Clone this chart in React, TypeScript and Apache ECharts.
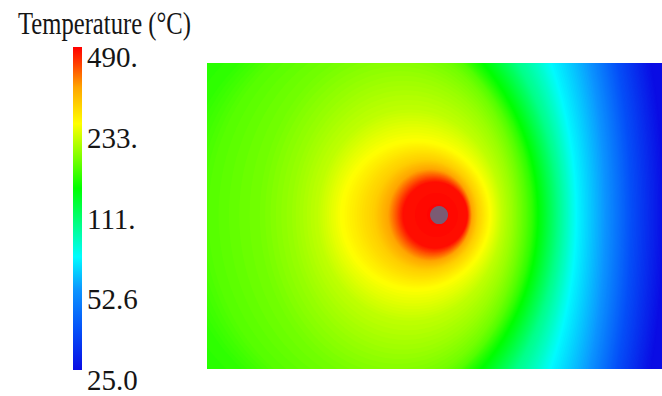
import React, { useEffect, useRef } from "react";
import * as echarts from "echarts";

// ---- data ----
// Isotherms of the temperature field (domain in mm: x 0–150, y 0–100).
// Each isotherm is an ellipse: centre (x, y), half-width, half-height.
const isoTemp = [25, 36, 53, 70, 95, 133, 149, 161, 173, 189, 208, 242, 291, 338, 407, 472];
const isoCenterX = [-154, -134.5, -109.8, -34.3, 16.2, 30.7, 48.8, 52.8, 60.3, 64.3, 66.9, 68.9, 72.2, 73.5, 74.5, 75.2];
const isoCenterY = [50.3, 50.3, 50.3, 50.3, 50.3, 50.3, 50.3, 50.3, 50.3, 50.3, 50.3, 50.3, 50.3, 50.3, 50.3, 50.3];
const isoRadiusX = [304.6, 274.3, 240.7, 156.3, 99.6, 78.5, 58.4, 52.4, 42.9, 36.3, 30.3, 24.4, 17.1, 13.8, 11.9, 10.6];
const isoRadiusY = [302, 271.9, 238.6, 154.9, 98.7, 77.8, 65.4, 62.1, 54.9, 45.5, 34.5, 24.2, 18.0, 15.0, 12.6, 10.8];

// Heat source position (mm)
const sourceX = [76.5];
const sourceY = [50.3];

// Colour bar
const tempMin = 25;
const tempMax = 490;
const tickTemps = [25.0, 52.6, 111, 233, 490];
const tickLabels = ["25.0", "52.6", "111.", "233.", "490."];
const titleText = "Temperature (°C)";

// ---- styles: colour ramp (position along the bar 0..4, rgb) ----
const rampPos = [0, 0.5, 1.0, 1.4, 1.8, 2.25, 2.6, 3.05, 3.5, 3.8, 4.0];
const rampRGB: [number, number, number][] = [
  [10, 12, 228],
  [5, 80, 248],
  [12, 150, 255],
  [0, 252, 255],
  [0, 255, 135],
  [0, 255, 0],
  [115, 255, 0],
  [255, 255, 0],
  [255, 165, 0],
  [255, 60, 0],
  [255, 0, 0],
];

const U_MAX = tickTemps.length - 1;
const uOf = (t: number) => (U_MAX * Math.log(t / tempMin)) / Math.log(tempMax / tempMin);

function colorAt(u: number): string {
  const v = Math.max(0, Math.min(U_MAX, u));
  let i = 0;
  while (i < rampPos.length - 2 && v > rampPos[i + 1]) i++;
  const t = (v - rampPos[i]) / (rampPos[i + 1] - rampPos[i]);
  const a = rampRGB[i];
  const b = rampRGB[i + 1];
  const c = a.map((x, k) => Math.round(x + (b[k] - x) * t));
  return `rgb(${c[0]},${c[1]},${c[2]})`;
}

export default function App() {
  const ref = useRef<HTMLDivElement>(null);

  useEffect(() => {
    if (!ref.current) return;
    const chart = echarts.init(ref.current, undefined, { renderer: "svg" });

    const fieldData = isoTemp.map((t, i) => [isoCenterX[i], isoCenterY[i], isoRadiusX[i], isoRadiusY[i], t]);

    const option: any = {
      animation: false,
      backgroundColor: "#ffffff",
      grid: [
        { left: 207, top: 63, width: 455, height: 306, show: true, backgroundColor: colorAt(0), borderWidth: 0 },
        { left: 73, top: 47, width: 9, height: 323 },
      ],
      xAxis: [
        { gridIndex: 0, type: "value", min: 0, max: 150, show: false },
        { gridIndex: 1, type: "value", min: 0, max: 1, show: false },
      ],
      yAxis: [
        { gridIndex: 0, type: "value", min: 0, max: 100, show: false },
        {
          gridIndex: 1,
          type: "value",
          min: 0,
          max: U_MAX,
          interval: 1,
          position: "right",
          axisLine: { show: false },
          axisTick: { show: false },
          splitLine: { show: false },
          axisLabel: {
            formatter: (v: number) => tickLabels[Math.round(v)],
            fontFamily: "Liberation Serif",
            fontSize: 29,
            color: "#151515",
            margin: 5,
            verticalAlign: "top",
            lineHeight: 20,
          },
        },
      ],
      series: [
        {
          // isotherm bands: each isotherm is filled, shading towards the next (hotter) one
          type: "custom",
          xAxisIndex: 0,
          yAxisIndex: 0,
          clip: true,
          data: fieldData,
          renderItem: (params: any, api: any) => {
            const i = params.dataIndex;
            const c = api.coord([api.value(0), api.value(1)]);
            const s = api.size([api.value(2), api.value(3)]);
            const u = uOf(api.value(4));
            let nc = api.coord([sourceX[0], sourceY[0]]);
            let ns = [0, 0];
            let nu = U_MAX;
            if (i + 1 < isoTemp.length) {
              nc = api.coord([isoCenterX[i + 1], isoCenterY[i + 1]]);
              ns = api.size([isoRadiusX[i + 1], isoRadiusY[i + 1]]);
              nu = uOf(isoTemp[i + 1]);
            }
            const K = Math.max(2, Math.ceil(Math.abs(nu - u) / 0.02));
            const children: any[] = [];
            for (let k = 0; k < K; k++) {
              const t = k / K;
              const tm = (k + 0.5) / K;
              children.push({
                type: "ellipse",
                shape: {
                  cx: c[0] + (nc[0] - c[0]) * t,
                  cy: c[1] + (nc[1] - c[1]) * t,
                  rx: s[0] + (ns[0] - s[0]) * t,
                  ry: s[1] + (ns[1] - s[1]) * t,
                },
                style: { fill: colorAt(u + (nu - u) * tm) },
              });
            }
            return { type: "group", children };
          },
          z: 2,
        },
        {
          type: "scatter",
          xAxisIndex: 0,
          yAxisIndex: 0,
          data: sourceX.map((x, i) => [x, sourceY[i]]),
          symbol: "circle",
          symbolSize: 18,
          itemStyle: { color: "#5a7290" },
          z: 3,
        },
        {
          // colour bar
          type: "custom",
          xAxisIndex: 1,
          yAxisIndex: 1,
          data: [[0, 0, 1, U_MAX]],
          renderItem: (params: any, api: any) => {
            const p0 = api.coord([api.value(0), api.value(3)]);
            const p1 = api.coord([api.value(2), api.value(1)]);
            const stops = rampPos.map((p) => ({ offset: p / U_MAX, color: colorAt(p) }));
            return {
              type: "rect",
              shape: { x: p0[0], y: p0[1], width: p1[0] - p0[0], height: p1[1] - p0[1] },
              style: { fill: new echarts.graphic.LinearGradient(0, 1, 0, 0, stops) },
            };
          },
        },
      ],
      graphic: [
        {
          type: "text",
          x: 18,
          y: 7,
          scaleX: 0.77,
          style: {
            text: titleText,
            font: '32px "Liberation Serif"',
            fill: "#151515",
            textAlign: "left",
            textVerticalAlign: "top",
          },
        },
      ],
    };

    chart.setOption(option);
    return () => chart.dispose();
  }, []);

  return <div ref={ref} style={{ position: "fixed", left: 0, top: 0, width: 662, height: 396 }} />;
}
